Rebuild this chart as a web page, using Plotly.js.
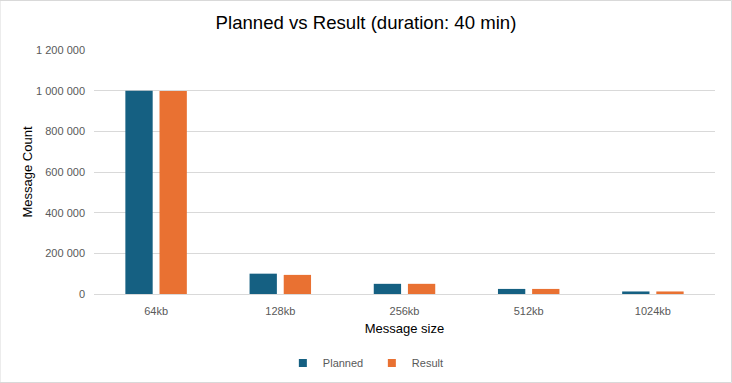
<!DOCTYPE html>
<html><head><meta charset="utf-8">
<script src="https://cdn.plot.ly/plotly-3.0.1.min.js"></script>
<style>html,body{margin:0;padding:0;background:#fff;} #chart{width:732px;height:383px;}</style>
</head><body><div id="chart"></div>
<script>
const categories = ["64kb", "128kb", "256kb", "512kb", "1024kb"];
const planned = [1000000, 100000, 50000, 25000, 12500];
const result = [998000, 94000, 50000, 25000, 12500];
const yTicks = [0, 200000, 400000, 600000, 800000, 1000000, 1200000];
const seriesNames = ["Planned", "Result"];
const seriesColors = ["#156082", "#E97132"];

const traces = [
  {type: "bar", name: seriesNames[0], x: categories, y: planned, marker: {color: seriesColors[0]}, showlegend: false},
  {type: "bar", name: seriesNames[1], x: categories, y: result, marker: {color: seriesColors[1]}, showlegend: false},
  {type: "scatter", mode: "markers", name: seriesNames[0], x: [null], y: [null], marker: {symbol: "square", size: 8, color: seriesColors[0]}},
  {type: "scatter", mode: "markers", name: seriesNames[1], x: [null], y: [null], marker: {symbol: "square", size: 8, color: seriesColors[1]}}
];
const layout = {
  width: 732, height: 383,
  margin: {l: 94, r: 17, t: 50, b: 89},
  paper_bgcolor: "#fff", plot_bgcolor: "#fff",
  separators: ". ",
  font: {family: "Liberation Sans, Arial, sans-serif", color: "#595959", size: 11},
  title: {text: "Planned vs Result (duration: 40 min)", font: {size: 18.6, color: "#000"}, x: 0.5, xanchor: "center", y: 0.94, yanchor: "middle"},
  barmode: "group", bargap: 0.45, bargroupgap: 0.2,
  xaxis: {automargin: true, title: {text: "Message size", font: {size: 13, color: "#000"}, standoff: 7}, showgrid: false, showline: true, linecolor: "#d9d9d9", ticks: "", ticklabelstandoff: 7, tickfont: {size: 11, color: "#595959"}},
  yaxis: {automargin: true, title: {text: "Message Count", font: {size: 13, color: "#000"}, standoff: 0}, range: [0, 1200000], tickvals: yTicks, tickformat: ",d", gridcolor: "#d9d9d9", zeroline: false, showline: false, ticks: "", ticklabelstandoff: 8, tickfont: {size: 11, color: "#595959"}},
  legend: {orientation: "h", xref: "container", yref: "container", x: 0.508, xanchor: "center", y: 0.052, yanchor: "middle", font: {size: 11, color: "#595959"}, itemwidth: 30, entrywidth: 44, tracegroupgap: 0},
  shapes: [{type: "rect", xref: "paper", yref: "paper", x0: -94/621, x1: 1 + 16.5/621, y0: -88.5/244, y1: 1 + 49.5/244, line: {color: "#d9d9d9", width: 1}}]
};
Plotly.newPlot("chart", traces, layout, {displayModeBar: false, staticPlot: true});
</script></body></html>
